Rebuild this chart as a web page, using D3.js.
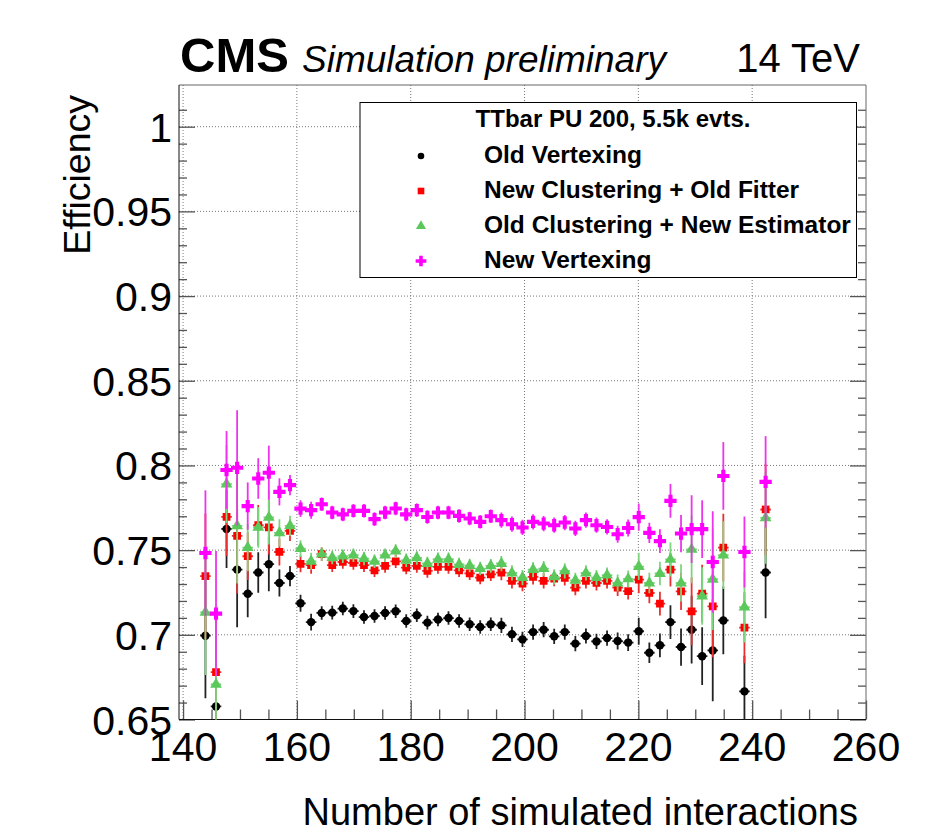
<!DOCTYPE html>
<html><head><meta charset="utf-8">
<script src="https://cdn.jsdelivr.net/npm/d3@7"></script>
<style>body{margin:0;background:#fff} svg{display:block}</style>
</head><body><svg id="c" width="928" height="835"></svg>
<script>
// ---------------- data ----------------
const binCenters = [143.93,145.79,147.64,149.50,151.36,153.21,155.07,156.93,158.79,160.64,
  162.50,164.36,166.21,168.07,169.93,171.79,173.64,175.50,177.36,179.21,
  181.07,182.93,184.79,186.64,188.50,190.36,192.21,194.07,195.93,197.79,
  199.64,201.50,203.36,205.21,207.07,208.93,210.79,212.64,214.50,216.36,
  218.21,220.07,221.93,223.79,225.64,227.50,229.36,231.21,233.07,234.93,
  238.64,242.36];
const binWidth = 1.857;
const effOldVertexing = [0.6995,0.6577,0.7625,0.7385,0.7243,0.7368,0.7417,0.7306,0.7347,0.7186,
  0.7075,0.7129,0.7131,0.7155,0.7140,0.7105,0.7111,0.7129,0.7139,0.7081,
  0.7115,0.7072,0.7090,0.7099,0.7081,0.7062,0.7046,0.7062,0.7056,0.7003,
  0.6973,0.7016,0.7030,0.6991,0.7016,0.6948,0.6993,0.6961,0.6981,0.6963,
  0.6954,0.7021,0.6894,0.6938,0.7075,0.6928,0.7030,0.6874,0.6908,0.7085,
  0.6666,0.7368];
const effNewClusteringOldFitter = [0.7346,0.6780,0.7696,0.7584,0.7464,0.7647,0.7634,0.7489,0.7614,0.7419,
  0.7411,0.7476,0.7411,0.7430,0.7424,0.7411,0.7381,0.7407,0.7434,0.7397,
  0.7407,0.7377,0.7401,0.7401,0.7381,0.7363,0.7338,0.7357,0.7367,0.7318,
  0.7302,0.7342,0.7318,0.7332,0.7336,0.7279,0.7318,0.7306,0.7318,0.7279,
  0.7258,0.7326,0.7247,0.7184,0.7385,0.7257,0.7139,0.7243,0.7168,0.7515,
  0.7042,0.7740];
const effOldClusteringNewEstimator = [0.7133,0.6707,0.7890,0.7643,0.7515,0.7634,0.7693,0.7602,0.7643,0.7509,
  0.7434,0.7476,0.7456,0.7464,0.7470,0.7450,0.7434,0.7470,0.7494,0.7440,
  0.7454,0.7421,0.7446,0.7446,0.7415,0.7409,0.7391,0.7407,0.7421,0.7365,
  0.7338,0.7385,0.7391,0.7342,0.7377,0.7322,0.7365,0.7338,0.7352,0.7306,
  0.7330,0.7403,0.7306,0.7362,0.7445,0.7306,0.7505,0.7229,0.7328,0.7470,
  0.7164,0.7690];
const effNewVertexing = [0.7483,0.7125,0.7973,0.7986,0.7760,0.7923,0.7957,0.7844,0.7884,0.7745,
  0.7736,0.7771,0.7722,0.7711,0.7732,0.7732,0.7683,0.7722,0.7746,0.7711,
  0.7736,0.7696,0.7722,0.7722,0.7702,0.7687,0.7667,0.7700,0.7677,0.7653,
  0.7634,0.7667,0.7657,0.7647,0.7663,0.7628,0.7677,0.7647,0.7637,0.7594,
  0.7631,0.7695,0.7602,0.7553,0.7791,0.7598,0.7624,0.7624,0.7430,0.7938,
  0.7489,0.7903];
const effErrors = [0.037,0.037,0.023,0.034,0.014,0.012,0.016,0.008,0.006,0.005,
  0.005,0.004,0.004,0.004,0.004,0.004,0.004,0.004,0.004,0.004,
  0.004,0.004,0.004,0.004,0.004,0.004,0.004,0.004,0.0045,0.0045,
  0.0045,0.0045,0.0045,0.0045,0.0045,0.0045,0.0045,0.0045,0.0045,0.005,
  0.005,0.008,0.006,0.007,0.010,0.011,0.020,0.017,0.030,0.020,
  0.021,0.027];
const seriesNames = ["Old Vertexing","New Clustering + Old Fitter","Old Clustering + New Estimator","New Vertexing"];
const xTickValues = [140,160,180,200,220,240,260];
const yTickValues = [0.65,0.7,0.75,0.8,0.85,0.9,0.95,1];
const yTickLabels = ["0.65","0.7","0.75","0.8","0.85","0.9","0.95","1"];

// ---------------- setup ----------------
const FONT = "'Liberation Sans', Arial, Helvetica, sans-serif";
const svg = d3.select("#c");
const L = 179, R = 866, T = 85, B = 719.5;
const x = d3.scaleLinear().domain([139.2857, 260]).range([L, R]);
const y = d3.scaleLinear().domain([0.65, 1.02462]).range([B, T]);

const styles = [
  {vals: effOldVertexing, color: "#000000", bar: "#222222", shape: d3.symbolCircle, size: 56},
  {vals: effNewClusteringOldFitter, color: "#ff0000", bar: "#e83030", shape: d3.symbolSquare, size: 60},
  {vals: effOldClusteringNewEstimator, color: "#5ac85a", bar: "#7fd47f", shape: d3.symbolTriangle, size: 60},
  {vals: effNewVertexing, color: "#ff00ff", bar: "#ee33ee", shape: d3.symbolCross, size: 84}
];

svg.append("defs").append("clipPath").attr("id","clip")
  .append("rect").attr("x", L).attr("y", T).attr("width", R-L).attr("height", B-T);

// grid
const grid = svg.append("g");
grid.selectAll("line.gx").data(xTickValues.filter(v => v < 260)).join("line")
  .attr("x1", d => x(d)).attr("x2", d => x(d)).attr("y1", T).attr("y2", B)
  .attr("stroke", "#777").attr("stroke-width", 1).attr("stroke-dasharray", "1,2");
grid.selectAll("line.gy").data(yTickValues).join("line")
  .attr("x1", L).attr("x2", R).attr("y1", d => y(d)).attr("y2", d => y(d))
  .attr("stroke", "#777").attr("stroke-width", 1).attr("stroke-dasharray", "1,2");

// minor ticks
const xMinor = d3.range(145, 260, 5).filter(v => v % 20 !== 0);
const yMinor = d3.range(0.66, 1.02, 0.01).filter(v => Math.abs(v*20 - Math.round(v*20)) > 1e-6);
const tickStyle = g => { g.select(".domain").remove(); g.selectAll("line").attr("stroke", "#555").attr("stroke-width", 1.3); g.selectAll("text").remove(); };
svg.append("g").attr("transform", `translate(0,${B})`)
  .call(d3.axisBottom(x).tickValues(xMinor).tickSizeInner(-10).tickSizeOuter(0)).call(tickStyle);
svg.append("g").attr("transform", `translate(0,${B})`)
  .call(d3.axisBottom(x).tickValues(xTickValues).tickSizeInner(-19).tickSizeOuter(0)).call(tickStyle);
svg.append("g").attr("transform", `translate(${L},0)`)
  .call(d3.axisLeft(y).tickValues(yMinor).tickSizeInner(-8).tickSizeOuter(0)).call(tickStyle);
svg.append("g").attr("transform", `translate(${L},0)`)
  .call(d3.axisLeft(y).tickValues(yTickValues).tickSizeInner(-16).tickSizeOuter(0)).call(tickStyle);
svg.append("g").attr("transform", `translate(${R},0)`)
  .call(d3.axisRight(y).tickValues(yMinor).tickSizeInner(-8).tickSizeOuter(0)).call(tickStyle);
svg.append("g").attr("transform", `translate(${R},0)`)
  .call(d3.axisRight(y).tickValues(yTickValues).tickSizeInner(-16).tickSizeOuter(0)).call(tickStyle);

// frame
svg.append("line").attr("x1", L).attr("x2", R).attr("y1", T).attr("y2", T).attr("stroke", "#666");
svg.append("line").attr("x1", R).attr("x2", R).attr("y1", T).attr("y2", B).attr("stroke", "#666");
svg.append("line").attr("x1", L).attr("x2", L).attr("y1", T).attr("y2", B).attr("stroke", "#111");
svg.append("line").attr("x1", L).attr("x2", R).attr("y1", B).attr("y2", B).attr("stroke", "#111");

// tick labels
svg.append("g").selectAll("text").data(xTickValues).join("text")
  .attr("x", d => x(d)).attr("y", 761).attr("text-anchor", "middle")
  .attr("font-family", FONT).attr("font-size", 41).attr("fill", "#000").text(d => d);
svg.append("g").selectAll("text").data(yTickValues).join("text")
  .attr("x", 172).attr("y", d => y(d) + 15).attr("text-anchor", "end")
  .attr("font-family", FONT).attr("font-size", 41).attr("fill", "#000").text((d,i) => yTickLabels[i]);

// axis titles
svg.append("text").attr("x", 858).attr("y", 825).attr("text-anchor", "end")
  .attr("font-family", FONT).attr("font-size", 38).text("Number of simulated interactions");
svg.append("text").attr("transform", "translate(90,95) rotate(-90)").attr("text-anchor", "end")
  .attr("font-family", FONT).attr("font-size", 37.5).text("Efficiency");

// header
svg.append("text").attr("x", 180).attr("y", 72).attr("font-family", FONT).attr("font-weight", "bold")
  .attr("font-size", 49).text("CMS");
svg.append("text").attr("x", 302).attr("y", 72).attr("font-family", FONT).attr("font-style", "italic")
  .attr("font-size", 37).text("Simulation preliminary");
svg.append("text").attr("x", 860).attr("y", 72).attr("text-anchor", "end").attr("font-family", FONT)
  .attr("font-size", 40).text("14 TeV");

// data
const plot = svg.append("g").attr("clip-path", "url(#clip)");
styles.forEach(s => {
  const pts = binCenters.map((c, i) => ({x: c, v: s.vals[i], e: effErrors[i]}));
  const g = plot.append("g");
  g.selectAll("line.v").data(pts).join("line")
    .attr("x1", d => x(d.x)).attr("x2", d => x(d.x))
    .attr("y1", d => y(d.v - d.e)).attr("y2", d => y(d.v + d.e))
    .attr("stroke", s.bar).attr("stroke-width", 1.8);
  g.selectAll("line.h").data(pts).join("line")
    .attr("x1", d => x(d.x - binWidth/2)).attr("x2", d => x(d.x + binWidth/2))
    .attr("y1", d => y(d.v)).attr("y2", d => y(d.v))
    .attr("stroke", s.bar).attr("stroke-width", 1.8);
  g.selectAll("path").data(pts).join("path")
    .attr("transform", d => `translate(${x(d.x)},${y(d.v)})`)
    .attr("d", d3.symbol().type(s.shape).size(s.size))
    .attr("fill", s.color);
});

// legend
const lg = svg.append("g");
lg.append("rect").attr("x", 360).attr("y", 102.5).attr("width", 496.5).attr("height", 175)
  .attr("fill", "#fff").attr("stroke", "#000").attr("stroke-width", 1);
lg.append("text").attr("x", 613).attr("y", 127).attr("text-anchor", "middle").attr("font-family", FONT)
  .attr("font-weight", "bold").attr("font-size", 24).text("TTbar PU 200, 5.5k evts.");
const legSizes = [34, 44, 44, 64];
seriesNames.forEach((n, i) => {
  const yy = 156 + i * 35;
  lg.append("path").attr("transform", `translate(421,${yy})`)
    .attr("d", d3.symbol().type(styles[i].shape).size(legSizes[i])).attr("fill", styles[i].color);
  lg.append("text").attr("x", 484).attr("y", yy + 7).attr("font-family", FONT).attr("font-weight", "bold")
    .attr("font-size", 24.5).text(n);
});
</script></body></html>
